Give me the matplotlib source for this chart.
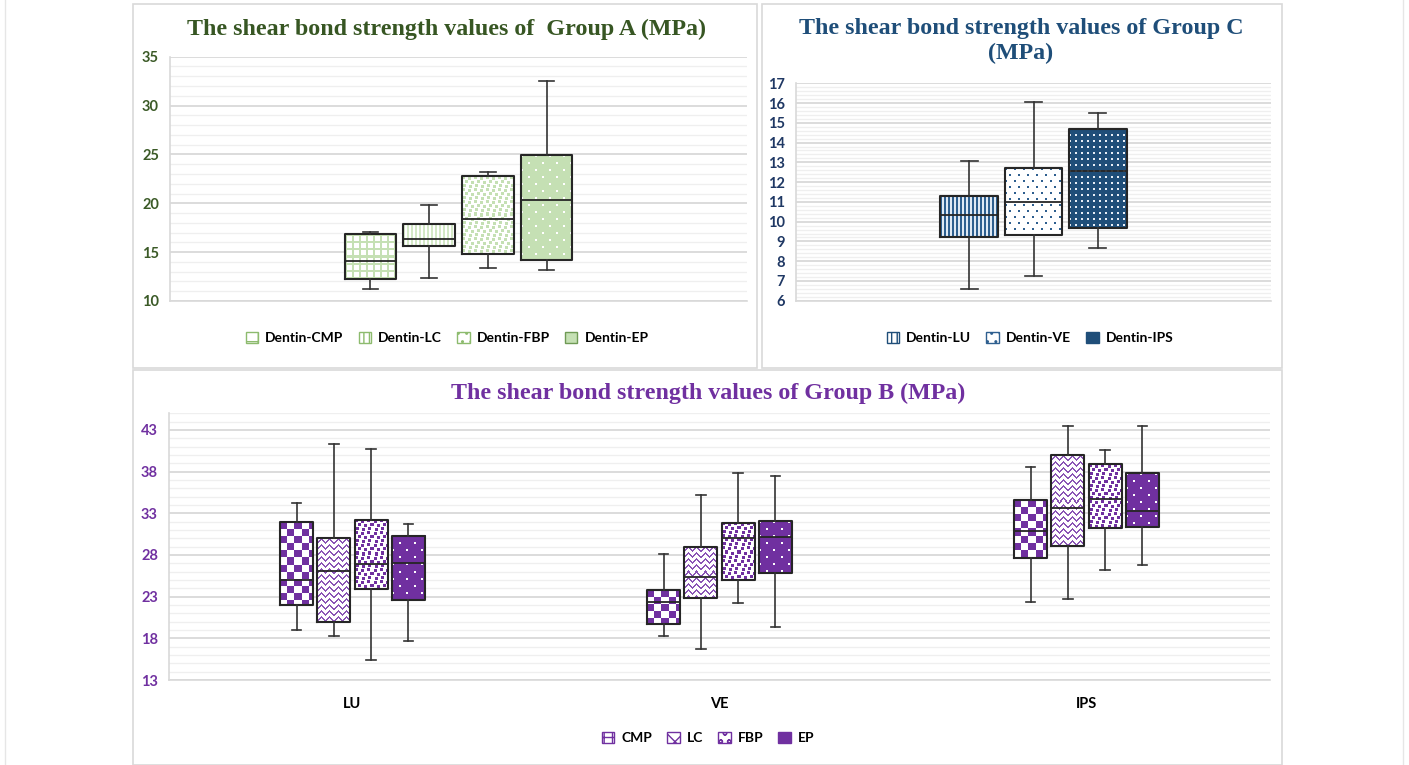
import numpy as np
import matplotlib
matplotlib.use('Agg')
import matplotlib.pyplot as plt
from matplotlib.patches import Patch, Rectangle
from matplotlib.colors import to_rgb

# ---------------- data ----------------
# Group A (single category, four series)
a_series = ['Dentin-CMP', 'Dentin-LC', 'Dentin-FBP', 'Dentin-EP']
a_whislo = [11.2, 12.4, 13.4, 13.2]
a_q1 = [12.3, 15.6, 14.85, 14.2]
a_med = [14.05, 16.3, 18.4, 20.35]
a_q3 = [16.85, 17.9, 22.77, 24.93]
a_whishi = [17.05, 19.83, 23.25, 32.54]

# Group C (single category, three series)
c_series = ['Dentin-LU', 'Dentin-VE', 'Dentin-IPS']
c_whislo = [6.61, 7.25, 8.66]
c_q1 = [9.22, 9.34, 9.66]
c_med = [10.32, 11.0, 12.54]
c_q3 = [11.3, 12.73, 14.71]
c_whishi = [13.05, 16.06, 15.52]

# Group B (rows: categories LU, VE, IPS; columns: series CMP, LC, FBP, EP)
b_categories = ['LU', 'VE', 'IPS']
b_series = ['CMP', 'LC', 'FBP', 'EP']
b_whislo = [[19.0, 18.32, 15.4, 17.72],
            [18.32, 16.76, 22.2, 19.36],
            [22.4, 22.72, 26.24, 26.8]]
b_q1 = [[22.04, 19.96, 23.96, 22.56],
        [19.72, 22.88, 25.0, 25.84],
        [27.68, 29.12, 31.24, 31.4]]
b_med = [[25.04, 26.12, 26.92, 27.04],
         [22.32, 25.32, 30.08, 30.12],
         [30.92, 33.6, 34.68, 33.32]]
b_q3 = [[31.92, 30.0, 32.24, 30.24],
        [23.76, 29.0, 31.88, 32.04],
        [34.56, 39.96, 38.88, 37.84]]
b_whishi = [[34.28, 41.32, 40.76, 31.68],
            [28.08, 35.2, 37.88, 37.44],
            [38.6, 43.48, 40.56, 43.48]]

# ---------------- style ----------------
W, H, DPI = 1409, 765, 100
TICKFONT = ['Lato', 'DejaVu Sans']
TITLEFONT = ['Liberation Serif', 'DejaVu Serif']
GREEN, GREEN_TXT = '#c5e0b4', '#3b5a27'
BLUE, BLUE_TXT = '#1f4e79', '#1f3864'
PURPLE = '#7030a0'
EDGE = '#262626'
TITLESIZE = 17.3

fig = plt.figure(figsize=(W / DPI, H / DPI), dpi=DPI)
fig.patch.set_facecolor('white')


def px_axes(left, right, top, bottom):
    return fig.add_axes([left / W, 1 - bottom / H, (right - left) / W, (bottom - top) / H])


def frame(x0, y0, x1, y1):
    fig.patches.append(Rectangle((x0 / W, 1 - y1 / H), (x1 - x0) / W, (y1 - y0) / H,
                                 transform=fig.transFigure, fill=False,
                                 edgecolor='#d9d9d9', lw=1.2, zorder=0))


# panel frames
frame(133, 4, 757, 368)
frame(762, 4, 1282, 368)
frame(133, 370, 1282, 765)
fig.lines.append(plt.Line2D([5 / W, 5 / W], [0, 1], transform=fig.transFigure, color='#e6e6e6', lw=1))
fig.lines.append(plt.Line2D([1403 / W, 1403 / W], [0, 1], transform=fig.transFigure, color='#e6e6e6', lw=1))


# ---------------- tiles ----------------
def t_grid(p, lw):
    t = np.zeros((p, p), bool)
    t[:lw, :] = True
    t[:, :lw] = True
    return t


def t_vlines(p, lw):
    t = np.zeros((2, p), bool)
    t[:, :lw] = True
    return t


def t_dots(px, py, s, stagger=True):
    t = np.zeros((py, px), bool)
    t[:s, :s] = True
    if stagger:
        t[py // 2:py // 2 + s, px // 2:px // 2 + s] = True
    return t


def t_checker(c):
    t = np.zeros((2 * c, 2 * c), bool)
    t[:c, :c] = True
    t[c:, c:] = True
    return t


def t_confetti(s):
    t = np.zeros((12, 12), bool)
    for (i, j) in [(0, 0), (1, 6), (4, 3), (5, 9), (8, 1), (9, 7)]:
        t[i:i + s, j:j + s] = True
    return t


def t_zigzag():
    i, j = np.indices((6, 8))
    tri = np.abs((j % 8) - 4)
    return ((i - tri) % 6) < 2


def texture_boxes(ax, pos, width, q1, q3, tile, fg, bg):
    fg = np.array(to_rgb(fg))
    bg = np.array(to_rgb(bg))
    for p, lo, hi in zip(pos, q1, q3):
        x0, x1 = p - width / 2, p + width / 2
        (px0, py0) = ax.transData.transform((x0, lo))
        (px1, py1) = ax.transData.transform((x1, hi))
        w = max(int(round(px1 - px0)), 1)
        h = max(int(round(py1 - py0)), 1)
        reps = (h // tile.shape[0] + 2, w // tile.shape[1] + 2)
        m = np.tile(tile, reps)[:h, :w]
        img = np.where(m[..., None], fg, bg)
        ax.imshow(img, extent=(x0, x1, lo, hi), origin='upper', interpolation='nearest',
                  aspect='auto', zorder=2)


def draw_boxes(ax, pos, width, lo, q1, med, q3, hi):
    stats = [dict(whislo=a, q1=b, med=c, q3=d, whishi=e)
             for a, b, c, d, e in zip(lo, q1, med, q3, hi)]
    ax.bxp(stats, positions=pos, widths=width, capwidths=[width * 0.3] * len(pos),
           showfliers=False, patch_artist=False, manage_ticks=False,
           boxprops=dict(color=EDGE, lw=1.5, zorder=3),
           medianprops=dict(color=EDGE, lw=1.3, zorder=3),
           whiskerprops=dict(color='#333333', lw=1.2, zorder=3),
           capprops=dict(color='#333333', lw=1.2, zorder=3))


def style_axes(ax, major, minor, ylim, xlim, color):
    ax.set_xlim(*xlim)
    ax.set_ylim(*ylim)
    ax.set_yticks(major)
    ax.set_yticks(minor, minor=True)
    ax.set_axisbelow(True)
    ax.grid(which='major', axis='y', color='#d9d9d9', lw=1.3)
    ax.grid(which='minor', axis='y', color='#efefef', lw=0.9)
    for s in ['top', 'right']:
        ax.spines[s].set_visible(False)
    for s in ['left', 'bottom']:
        ax.spines[s].set_color('#d9d9d9')
        ax.spines[s].set_linewidth(1.2)
    ax.tick_params(axis='both', which='both', length=0)
    ax.tick_params(axis='y', labelcolor=color, pad=8)
    for lab in ax.get_yticklabels():
        lab.set_fontfamily(TICKFONT)
        lab.set_fontweight('bold')
        lab.set_fontsize(10.5)
    ax.set_facecolor('none')


# ---------------- Group A ----------------
axA = px_axes(170, 747, 56.7, 301)
nA = len(a_series)
slotA, wA = 0.1017, 0.09
posA = [(i - (nA - 1) / 2) * slotA for i in range(nA)]
style_axes(axA, np.arange(10, 36, 5), np.arange(10, 36, 1), (10, 35), (-0.5, 0.5), GREEN_TXT)
axA.set_xticks([])
tilesA = [(t_grid(7, 2), GREEN, 'white'), (t_vlines(4, 2), '#d3e8c6', 'white'),
          (t_confetti(3), GREEN, 'white'), (t_dots(14, 14, 2), 'white', GREEN)]
for k in range(nA):
    texture_boxes(axA, [posA[k]], wA, [a_q1[k]], [a_q3[k]], *tilesA[k])
draw_boxes(axA, posA, wA, a_whislo, a_q1, a_med, a_q3, a_whishi)
axA.set_xlim(-0.5, 0.5)
axA.set_ylim(10, 35)
fig.text(447 / W, 1 - 29 / H, 'The shear bond strength values of  Group A (MPa)',
         ha='center', va='center', fontsize=TITLESIZE, fontweight='bold', family=TITLEFONT,
         color='#375623')

# ---------------- Group C ----------------
axC = px_axes(796, 1271, 83.3, 300.7)
nC = len(c_series)
slotC, wC = 0.1354, 0.1215
posC = [(i - (nC - 1) / 2) * slotC for i in range(nC)]
style_axes(axC, np.arange(6, 18, 1), np.arange(6, 17.01, 0.2), (6, 17), (-0.5, 0.5), BLUE_TXT)
axC.set_xticks([])
tilesC = [(t_vlines(4, 2), '#2e5f8f', '#dfe9f4'), (t_dots(9, 12, 2), '#2e5f8f', 'white'),
          (t_dots(6, 6, 2, stagger=False), '#e8eef6', BLUE)]
for k in range(nC):
    texture_boxes(axC, [posC[k]], wC, [c_q1[k]], [c_q3[k]], *tilesC[k])
draw_boxes(axC, posC, wC, c_whislo, c_q1, c_med, c_q3, c_whishi)
axC.set_xlim(-0.5, 0.5)
axC.set_ylim(6, 17)
fig.text(1021 / W, 1 - 41 / H, 'The shear bond strength values of Group C\n(MPa)',
         ha='center', va='center', fontsize=TITLESIZE, fontweight='bold', family=TITLEFONT,
         color=BLUE, linespacing=1.2)

# ---------------- Group B ----------------
axB = px_axes(169, 1270, 413.3, 680)
nB = len(b_series)
slotB, wB = 0.1017, 0.09
style_axes(axB, np.arange(13, 44, 5), np.arange(13, 45.01, 1), (13, 45),
           (-0.5, len(b_categories) - 0.5), PURPLE)
axB.set_xticks(range(len(b_categories)))
axB.set_xticklabels(b_categories, fontfamily=TICKFONT, fontweight='bold', fontsize=10.5)
axB.tick_params(axis='x', pad=12)
tilesB = [(t_checker(7), PURPLE, 'white'), (t_zigzag(), '#8a55b5', 'white'),
          (t_confetti(3), PURPLE, 'white'), (t_dots(14, 14, 2), 'white', PURPLE)]
for k in range(nB):
    pos = [c + (k - (nB - 1) / 2) * slotB for c in range(len(b_categories))]
    q1k = [row[k] for row in b_q1]
    q3k = [row[k] for row in b_q3]
    texture_boxes(axB, pos, wB, q1k, q3k, *tilesB[k])
    draw_boxes(axB, pos, wB, [r[k] for r in b_whislo], q1k, [r[k] for r in b_med], q3k,
               [r[k] for r in b_whishi])
axB.set_xlim(-0.5, len(b_categories) - 0.5)
axB.set_ylim(13, 45)
fig.text(708 / W, 1 - 393 / H, 'The shear bond strength values of Group B (MPa)',
         ha='center', va='center', fontsize=TITLESIZE, fontweight='bold', family=TITLEFONT,
         color=PURPLE)

# ---------------- legends ----------------
plt.rcParams['hatch.linewidth'] = 1.0


def legend(handles, labels, x, y):
    lg = fig.legend(handles, labels, loc='center', bbox_to_anchor=(x / W, 1 - y / H),
                    ncol=len(labels), frameon=False, handlelength=0.9, handleheight=0.9,
                    handletextpad=0.5, columnspacing=1.1,
                    prop=dict(family=TICKFONT, weight='bold', size=10))
    return lg


hA = [Patch(facecolor='white', edgecolor='#8dbb6e', hatch='+'),
      Patch(facecolor='white', edgecolor='#8dbb6e', hatch='|||'),
      Patch(facecolor='white', edgecolor='#8dbb6e', hatch='..'),
      Patch(facecolor=GREEN, edgecolor='#6f9a55')]
legend(hA, a_series, 447, 338)
hC = [Patch(facecolor='white', edgecolor=BLUE, hatch='|||'),
      Patch(facecolor='white', edgecolor='#2e5f8f', hatch='..'),
      Patch(facecolor=BLUE, edgecolor=BLUE)]
legend(hC, c_series, 1030, 338)
hB = [Patch(facecolor='white', edgecolor=PURPLE, hatch='++'),
      Patch(facecolor='white', edgecolor=PURPLE, hatch='xx'),
      Patch(facecolor='white', edgecolor=PURPLE, hatch='oo'),
      Patch(facecolor=PURPLE, edgecolor=PURPLE)]
legend(hB, b_series, 708, 738)

fig.savefig('out.png', dpi=DPI, facecolor='white')
